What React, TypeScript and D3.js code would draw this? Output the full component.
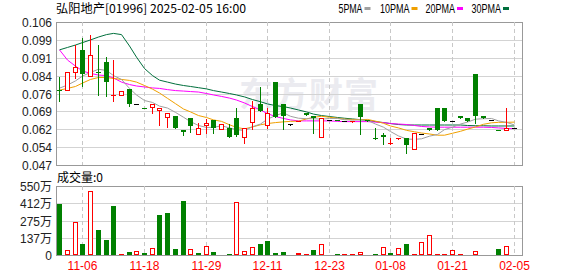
import React from 'react';
import * as d3 from 'd3';

// ---- data ----
const xTickIndex = [3, 11, 19, 27, 35, 43, 51, 59];
const xTickLabels = ['11-06', '11-18', '11-29', '12-11', '12-23', '01-08', '01-21', '02-05'];
const priceTicks = [0.047, 0.054375, 0.06175, 0.069125, 0.0765, 0.083875, 0.09125, 0.098625, 0.106];
const priceTickLabels = ['0.047', '0.054', '0.062', '0.069', '0.076', '0.084', '0.091', '0.099', '0.106'];
const volTicks = [0, 137.5, 275, 412.5, 550];
const volTickLabels = ['0', '137万', '275万', '412万', '550万'];

const opens = [0.0780, 0.0778, 0.0855, 0.0944, 0.0837, 0.0855, 0.0895, 0.0757, 0.0758, 0.0785,
  0.0720, 0.0705, 0.0708, 0.0697, 0.0667, 0.0672, 0.0614, 0.0663, 0.0597, 0.0634,
  0.0654, 0.0617, 0.0621, 0.0663, 0.0584, 0.0647, 0.0720, 0.0634, 0.0812, 0.0722,
  0.0639, 0.0651, 0.0686, 0.0673, 0.0584, 0.0656, 0.0656, 0.0650, 0.0649, 0.0722,
  0.0656, 0.0580, 0.0594, 0.0558, 0.0579, 0.0580, 0.0535, 0.0597, 0.0624, 0.0705,
  0.0705, 0.0652, 0.0672, 0.0664, 0.0845, 0.0672, 0.0656, 0.0615, 0.0614, 0.0621];
const highs = [0.0832, 0.0852, 0.0965, 0.0993, 0.1008, 0.0965, 0.0915, 0.0903, 0.0774, 0.0785,
  0.0720, 0.0705, 0.0720, 0.0704, 0.0683, 0.0672, 0.0614, 0.0665, 0.0642, 0.0659,
  0.0654, 0.0640, 0.0638, 0.0704, 0.0621, 0.0734, 0.0793, 0.0704, 0.0812, 0.0722,
  0.0639, 0.0652, 0.0686, 0.0673, 0.0665, 0.0656, 0.0656, 0.0650, 0.0650, 0.0722,
  0.0656, 0.0621, 0.0601, 0.0583, 0.0581, 0.0580, 0.0601, 0.0597, 0.0624, 0.0705,
  0.0705, 0.0652, 0.0672, 0.0664, 0.0845, 0.0672, 0.0656, 0.0615, 0.0704, 0.0621];
const lows = [0.0735, 0.0778, 0.0828, 0.0797, 0.0837, 0.0759, 0.0755, 0.0735, 0.0758, 0.0713,
  0.0720, 0.0704, 0.0686, 0.0634, 0.0626, 0.0624, 0.0595, 0.0605, 0.0597, 0.0603,
  0.0603, 0.0617, 0.0584, 0.0590, 0.0562, 0.0617, 0.0694, 0.0621, 0.0669, 0.0617,
  0.0634, 0.0651, 0.0675, 0.0603, 0.0584, 0.0656, 0.0655, 0.0650, 0.0649, 0.0597,
  0.0650, 0.0576, 0.0555, 0.0558, 0.0579, 0.0521, 0.0535, 0.0597, 0.0614, 0.0614,
  0.0653, 0.0652, 0.0664, 0.0653, 0.0645, 0.0664, 0.0656, 0.0614, 0.0614, 0.0621];
const closes = [0.0778, 0.0852, 0.0873, 0.0844, 0.0923, 0.0849, 0.0814, 0.0760, 0.0774, 0.0722,
  0.0720, 0.0704, 0.0720, 0.0704, 0.0683, 0.0624, 0.0605, 0.0631, 0.0624, 0.0642,
  0.0624, 0.0640, 0.0584, 0.0592, 0.0621, 0.0704, 0.0694, 0.0683, 0.0669, 0.0672,
  0.0639, 0.0652, 0.0675, 0.0663, 0.0665, 0.0656, 0.0655, 0.0650, 0.0650, 0.0667,
  0.0650, 0.0576, 0.0585, 0.0560, 0.0581, 0.0553, 0.0601, 0.0597, 0.0614, 0.0614,
  0.0653, 0.0652, 0.0664, 0.0653, 0.0672, 0.0664, 0.0656, 0.0614, 0.0622, 0.0621];

// volume in 万, with its own up/down colour as drawn
const volumes = [406, 40, 261, 88, 508, 199, 120, 390, 8, 21,
  29, 16, 53, 319, 335, 48, 430, 45, 16, 69,
  24, 0, 8, 420, 29, 61, 88, 112, 16, 24,
  0, 16, 8, 40, 85, 0, 8, 8, 8, 24,
  0, 8, 61, 16, 53, 88, 10, 101, 157, 8,
  8, 37, 8, 0, 29, 0, 0, 48, 72, 0];
const volUp = [0, 1, 1, 0, 1, 0, 0, 0, 1, 0,
  1, 0, 1, 0, 0, 0, 0, 1, 0, 1,
  0, 1, 0, 1, 1, 1, 0, 0, 0, 0,
  1, 1, 1, 0, 1, 1, 0, 1, 1, 1,
  1, 0, 1, 0, 1, 0, 1, 1, 1, 1,
  1, 1, 1, 1, 1, 1, 1, 0, 1, 1];

const ma5 = [0.0787, 0.0800, 0.0817, 0.0837, 0.0852, 0.0865, 0.0860, 0.0839, 0.0823, 0.0786,
  0.0759, 0.0736, 0.0728, 0.0713, 0.0705, 0.0687, 0.0667, 0.0649, 0.0633, 0.0625,
  0.0625, 0.0632, 0.0623, 0.0616, 0.0612, 0.0628, 0.0639, 0.0659, 0.0674, 0.0685,
  0.0671, 0.0663, 0.0661, 0.0661, 0.0659, 0.0662, 0.0662, 0.0657, 0.0655, 0.0656,
  0.0654, 0.0639, 0.0626, 0.0608, 0.0590, 0.0577, 0.0576, 0.0578, 0.0589, 0.0596,
  0.0616, 0.0626, 0.0639, 0.0647, 0.0659, 0.0661, 0.0662, 0.0652, 0.0646, 0.0635];
const ma10 = [0.0779, 0.0786, 0.0794, 0.0808, 0.0823, 0.0831, 0.0831, 0.0827, 0.0823, 0.0819,
  0.0812, 0.0798, 0.0783, 0.0767, 0.0745, 0.0723, 0.0701, 0.0689, 0.0674, 0.0666,
  0.0656, 0.0650, 0.0636, 0.0625, 0.0619, 0.0627, 0.0636, 0.0641, 0.0645, 0.0648,
  0.0650, 0.0651, 0.0660, 0.0667, 0.0671, 0.0667, 0.0663, 0.0659, 0.0658, 0.0657,
  0.0658, 0.0651, 0.0642, 0.0631, 0.0623, 0.0613, 0.0607, 0.0602, 0.0598, 0.0593,
  0.0593, 0.0601, 0.0609, 0.0618, 0.0627, 0.0638, 0.0644, 0.0646, 0.0646, 0.0647];
const ma20 = [0.0945, 0.0903, 0.0878, 0.0858, 0.0848, 0.0841, 0.0839, 0.0829, 0.0812, 0.0802,
  0.0796, 0.0792, 0.0788, 0.0786, 0.0781, 0.0777, 0.0775, 0.0773, 0.0771, 0.0765,
  0.0759, 0.0753, 0.0746, 0.0738, 0.0726, 0.0711, 0.0697, 0.0682, 0.0670, 0.0662,
  0.0656, 0.0652, 0.0652, 0.0652, 0.0652, 0.0652, 0.0650, 0.0649, 0.0649, 0.0649,
  0.0649, 0.0647, 0.0645, 0.0641, 0.0639, 0.0637, 0.0633, 0.0629, 0.0627, 0.0626,
  0.0626, 0.0626, 0.0626, 0.0626, 0.0626, 0.0626, 0.0625, 0.0623, 0.0621, 0.0620];
const ma30 = [0.0945, 0.0955, 0.0965, 0.0975, 0.0986, 0.0998, 0.1008, 0.1013, 0.1008, 0.0961,
  0.0915, 0.0868, 0.0839, 0.0820, 0.0812, 0.0804, 0.0798, 0.0794, 0.0789, 0.0784,
  0.0777, 0.0771, 0.0765, 0.0759, 0.0751, 0.0740, 0.0731, 0.0722, 0.0715, 0.0711,
  0.0705, 0.0697, 0.0689, 0.0680, 0.0674, 0.0670, 0.0666, 0.0663, 0.0660, 0.0657,
  0.0654, 0.0649, 0.0645, 0.0641, 0.0637, 0.0635, 0.0635, 0.0635, 0.0635, 0.0635,
  0.0635, 0.0635, 0.0635, 0.0633, 0.0632, 0.0632, 0.0631, 0.0631, 0.0631, 0.0631];

const legendItems = ['5PMA', '10PMA', '20PMA', '30PMA'];
const legendColors = ['#a0a0a0', '#f0a000', '#ff00ff', '#006f3c'];

// ---- layout ----
const W = 578, H = 276;
const L = 56, R = 522;
const PT = 22, PB = 165, VT = 186, VB = 255;
const RED = '#ff0000', GREEN = '#008000';
const FONT = 'Arial, "Liberation Sans", "Noto Sans CJK SC", sans-serif';

export default function App() {
  const N = closes.length;
  const x = d3.scaleBand<number>().domain(d3.range(N)).range([L, L + N * 7.7]);
  const cx = (i: number) => Math.round((x(i) as number) + x.bandwidth() / 2 - 0.5);
  const y = d3.scaleLinear().domain([0.047, 0.106]).range([PB, PT]);
  const yv = d3.scaleLinear().domain([0, 550]).range([VB, VT]);
  const mkLine = (arr: number[]) =>
    d3.line<number>().x((_, i) => cx(i) + 0.5).y((d) => y(d)).curve(d3.curveLinear)(arr) || '';

  const candles = closes.map((c, i) => {
    const o = opens[i], h = highs[i], l = lows[i];
    const X = cx(i);
    const col = c > o ? RED : c < o ? GREEN : '#000';
    const yt = Math.round(y(Math.max(o, c)));
    const yb = Math.round(y(Math.min(o, c)));
    const bh = yb - yt;
    const wick = (
      <line key="w" x1={X + 0.5} x2={X + 0.5} y1={Math.round(y(h))} y2={Math.round(y(l)) + 1} stroke={col} strokeWidth={1} />
    );
    let body;
    if (c > o && bh >= 2) {
      body = <rect key="b" x={X - 2 + 0.5} y={yt + 0.5} width={4} height={bh} fill="#fff" stroke={col} strokeWidth={1} />;
    } else {
      body = <rect key="b" x={X - 2} y={yt} width={5} height={Math.max(bh, 1)} fill={col} />;
    }
    return <g key={i}>{wick}{body}</g>;
  });

  const vols = volumes.map((v, i) => {
    if (v <= 0) return null;
    const X = cx(i);
    const top = Math.round(yv(v));
    const hgt = VB - top;
    if (volUp[i]) {
      if (hgt < 2) return <rect key={i} x={X - 2} y={VB - 1} width={5} height={1} fill={RED} />;
      return <rect key={i} x={X - 2 + 0.5} y={top + 0.5} width={4} height={hgt - 1} fill="#fff" stroke={RED} strokeWidth={1} />;
    }
    return <rect key={i} x={X - 2} y={top} width={5} height={Math.max(hgt, 1)} fill={GREEN} />;
  });

  const legendX = [338.5, 380, 425.5, 471.5];
  const legendW = [24, 29.5, 29.5, 29.5];

  return (
    <svg width={W} height={H} style={{ position: 'absolute', left: 0, top: 0, background: '#fff' }} fontFamily={FONT}>
      <rect x={0} y={0} width={W} height={H} fill="#fff" />
      {/* watermark */}
      <text x={239} y={107} fontSize={34} fontWeight="bold" fill="#ebebf0" letterSpacing={1}
        fontFamily='"Noto Sans CJK SC", sans-serif'>东方财富</text>

      {/* title */}
      <text x={56} y={13} fontSize={12} fill="#000" textLength={190} lengthAdjust="spacingAndGlyphs"
        fontFamily='"Noto Sans CJK SC", sans-serif'>弘阳地产[01996] 2025-02-05 16:00</text>

      {/* legend */}
      {legendItems.map((t, k) => (
        <g key={t}>
          <text x={legendX[k]} y={13} fontSize={12} fill="#000" textLength={legendW[k]} lengthAdjust="spacingAndGlyphs">{t}</text>
          <rect x={legendX[k] + legendW[k] + 2} y={7} width={6} height={3} fill={legendColors[k]} />
        </g>
      ))}

      {/* price grid */}
      {priceTicks.map((t, k) => (
        <g key={'pt' + k}>
          <line x1={L} x2={R} y1={Math.round(y(t)) + 0.5} y2={Math.round(y(t)) + 0.5}
            stroke={k === 0 || k === priceTicks.length - 1 ? '#999' : '#d3d3d3'} />
          <text x={52} y={Math.round(y(t)) + 4.5} fontSize={12} textAnchor="end" fill="#222">{priceTickLabels[k]}</text>
        </g>
      ))}
      {xTickIndex.map((i) => (
        <line key={'vx' + i} x1={cx(i) + 0.5} x2={cx(i) + 0.5} y1={PT} y2={PB} stroke="#c8c8c8" strokeDasharray="4,3" />
      ))}
      <line x1={L + 0.5} x2={L + 0.5} y1={PT} y2={PB + 1} stroke="#999" />
      <line x1={R + 0.5} x2={R + 0.5} y1={PT} y2={PB + 1} stroke="#999" />

      {/* moving averages */}
      <path d={mkLine(ma30)} fill="none" stroke={legendColors[3]} strokeWidth={1} />
      <path d={mkLine(ma20)} fill="none" stroke={legendColors[2]} strokeWidth={1} />
      <path d={mkLine(ma10)} fill="none" stroke={legendColors[1]} strokeWidth={1} />
      <path d={mkLine(ma5)} fill="none" stroke={legendColors[0]} strokeWidth={1} />

      {candles}

      {/* volume panel */}
      <text x={57} y={182} fontSize={12} fill="#000" fontFamily='"Noto Sans CJK SC", sans-serif'>成交量:0</text>
      {volTicks.map((t, k) => (
        <g key={'vt' + k}>
          <line x1={L} x2={R} y1={Math.round(yv(t)) + 0.5} y2={Math.round(yv(t)) + 0.5}
            stroke={k === 0 || k === volTicks.length - 1 ? '#999' : '#d3d3d3'} />
          <text x={52} y={Math.round(yv(t)) + 4.5} fontSize={12} textAnchor="end" fill="#222">{volTickLabels[k]}</text>
        </g>
      ))}
      {xTickIndex.map((i) => (
        <line key={'vv' + i} x1={cx(i) + 0.5} x2={cx(i) + 0.5} y1={VT} y2={VB} stroke="#c8c8c8" strokeDasharray="4,3" />
      ))}
      <line x1={L + 0.5} x2={L + 0.5} y1={VT} y2={VB + 1} stroke="#999" />
      <line x1={R + 0.5} x2={R + 0.5} y1={VT} y2={VB + 1} stroke="#999" />
      {vols}

      {/* x axis labels */}
      {xTickIndex.map((i, k) => (
        <text key={'xl' + i} x={cx(i) + 0.5} y={270} fontSize={12} textAnchor="middle" fill={RED}>{xTickLabels[k]}</text>
      ))}
    </svg>
  );
}
